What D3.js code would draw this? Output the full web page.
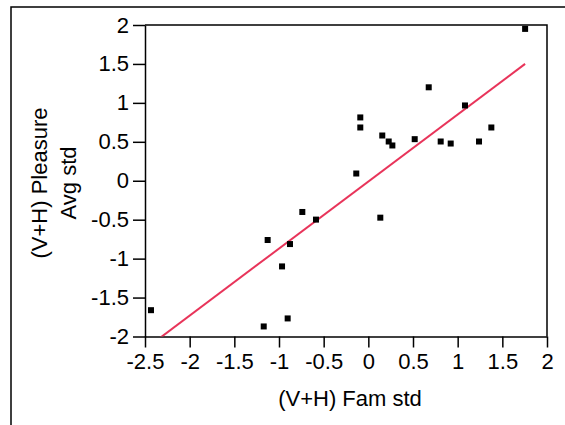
<!DOCTYPE html>
<html lang="en">
<head>
    <meta charset="UTF-8">
    <title>Pleasure vs Fam</title>
    <script src="https://cdn.jsdelivr.net/npm/d3@7/dist/d3.min.js"></script>
    <style>
        body { margin: 0; background: #fff; }
        svg { display: block; }
    </style>
</head>
<body>
<svg width="565" height="425" font-family="'Liberation Sans', Arial, sans-serif"></svg>
<script>
    // data
    var famStd = [1.755, 0.676, 1.082, 1.377, 1.239, 0.922, 0.81, 0.519, 0.156, 0.228, 0.269,
        -0.09, -0.09, -0.135, -0.739, 0.134, -0.586, -1.127, -0.877, -0.966, -0.903, -1.171, -2.433];
    var pleasureStd = [1.95, 1.2, 0.967, 0.684, 0.504, 0.478, 0.504, 0.534, 0.581, 0.504, 0.453,
        0.813, 0.684, 0.093, -0.401, -0.474, -0.499, -0.761, -0.813, -1.10, -1.768, -1.871, -1.662];
    var fitSlope = 0.861, fitIntercept = -0.01;
    var xTicks = [-2.5, -2, -1.5, -1, -0.5, 0, 0.5, 1, 1.5, 2];
    var yTicks = [-2, -1.5, -1, -0.5, 0, 0.5, 1, 1.5, 2];

    var svg = d3.select("svg");

    var x = d3.scaleLinear().domain([-2.5, 2]).range([145, 547]);
    var y = d3.scaleLinear().domain([-2, 2]).range([336.5, 25]);

    // outer frame (top + left edges)
    svg.append("path").attr("d", "M11,425V7H565")
        .attr("fill", "none").attr("stroke", "#000").attr("stroke-width", 1.5);

    var fmt = function (d) { return String(d); };

    var gx = svg.append("g").attr("transform", "translate(0," + y(-2) + ")")
        .call(d3.axisBottom(x).tickValues(xTicks).tickFormat(fmt).tickSize(11).tickPadding(6).tickSizeOuter(0));
    var gy = svg.append("g").attr("transform", "translate(" + x(-2.5) + ",0)")
        .call(d3.axisLeft(y).tickValues(yTicks).tickFormat(fmt).tickSize(12).tickPadding(4).tickSizeOuter(0));

    [gx, gy].forEach(function (g) {
        g.selectAll("path, line").attr("stroke", "#000").attr("stroke-width", 1.5);
        g.selectAll("text").attr("fill", "#000").style("font-size", "22px")
            .style("font-family", "'Liberation Sans', Arial, sans-serif");
    });

    // top and right frame of plot
    svg.append("path")
        .attr("d", "M" + x(-2.5) + "," + y(2) + "H" + x(2) + "V" + y(-2))
        .attr("fill", "none").attr("stroke", "#000").attr("stroke-width", 1.5);

    svg.append("clipPath").attr("id", "plotclip").append("rect")
        .attr("x", x(-2.5)).attr("y", y(2)).attr("width", x(2) - x(-2.5)).attr("height", y(-2) - y(2));

    // fit line
    var x0 = d3.min(famStd), x1 = d3.max(famStd);
    svg.append("line")
        .attr("clip-path", "url(#plotclip)")
        .attr("x1", x(x0)).attr("y1", y(fitSlope * x0 + fitIntercept))
        .attr("x2", x(x1)).attr("y2", y(fitSlope * x1 + fitIntercept))
        .attr("stroke", "#e8345a").attr("stroke-width", 2);

    // points
    svg.append("g").selectAll("rect").data(famStd).enter().append("rect")
        .attr("x", function (d) { return x(d) - 3; })
        .attr("y", function (d, i) { return y(pleasureStd[i]) - 3; })
        .attr("width", 6).attr("height", 6)
        .attr("fill", "#000");

    // axis titles
    svg.append("text").text("(V+H) Fam std")
        .attr("x", 350).attr("y", 406).attr("text-anchor", "middle")
        .style("font-size", "22px");

    var yt = svg.append("text").attr("transform", "translate(0,183) rotate(-90)")
        .attr("text-anchor", "middle").style("font-size", "22px");
    yt.append("tspan").attr("x", 0).attr("y", 47).text("(V+H) Pleasure");
    yt.append("tspan").attr("x", 0).attr("y", 76).text("Avg std");
</script>
</body>
</html>
